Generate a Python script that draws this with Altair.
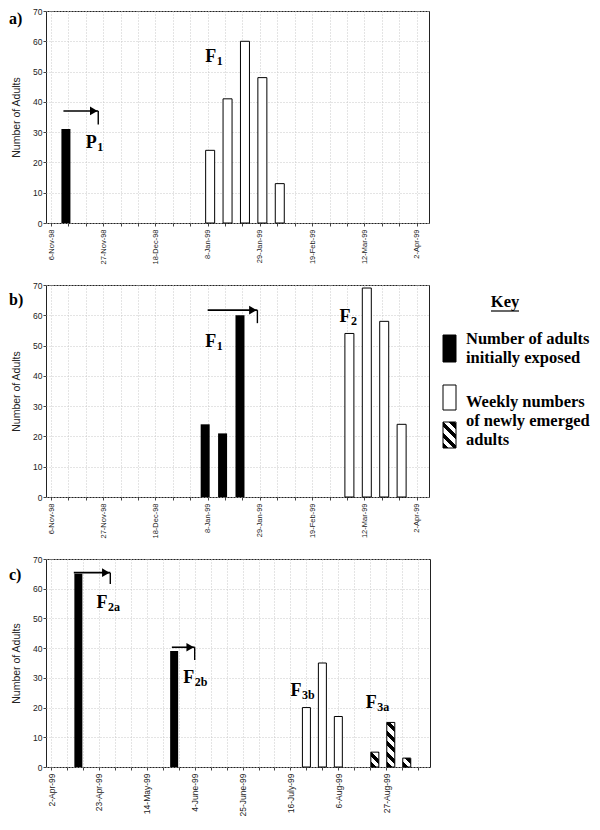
import json
import altair as alt
import numpy as np
import pandas as pd

# ---------------- data ----------------
# panel a
a_black_dates = ["1998-11-12"]
a_black_vals = [31]
a_white_dates = ["1999-01-09", "1999-01-16", "1999-01-23", "1999-01-30", "1999-02-06"]
a_white_vals = [24, 41, 60, 48, 13]
# panel b
b_black_dates = ["1999-01-07", "1999-01-14", "1999-01-21"]
b_black_vals = [24, 21, 60]
b_white_dates = ["1999-03-06", "1999-03-13", "1999-03-20", "1999-03-27"]
b_white_vals = [54, 69, 58, 24]
# panel c
c_black_dates = ["1999-04-14", "1999-05-26"]
c_black_vals = [65, 39]
c_white_dates = ["1999-07-23", "1999-07-30", "1999-08-06"]
c_white_vals = [20, 35, 17]
c_hatch_dates = ["1999-08-22", "1999-08-29", "1999-09-05"]
c_hatch_vals = [5, 15, 3]

# arrows: start, end, level, lower end of the stop tick
a_arrow_start = ["1998-11-11"]
a_arrow_end = ["1998-11-25"]
a_arrow_level = [37.0]
a_arrow_stop = [32.5]
b_arrow_start = ["1999-01-08"]
b_arrow_end = ["1999-01-28"]
b_arrow_level = [61.7]
b_arrow_stop = [57.4]
c_arrow_start = ["1999-04-12", "1999-05-25"]
c_arrow_end = ["1999-04-28", "1999-06-04"]
c_arrow_level = [65.4, 40.3]
c_arrow_stop = [61.6, 36.0]

# generation labels
a_lab_dates = ["1998-11-20", "1999-01-07"]
a_lab_vals = [24.8, 53.1]
a_lab_main = ["P", "F"]
a_lab_sub = ["1", "1"]
b_lab_dates = ["1999-01-07", "1999-03-02"]
b_lab_vals = [49.4, 57.7]
b_lab_main = ["F", "F"]
b_lab_sub = ["1", "2"]
c_lab_dates = ["1999-04-22", "1999-05-30", "1999-07-16", "1999-08-18"]
c_lab_vals = [53.4, 28.2, 24.0, 20.0]
c_lab_main = ["F", "F", "F", "F"]
c_lab_sub = ["2a", "2b", "3b", "3a"]

# axes
ab_domain = ["1998-11-06", "1999-04-05"]
c_domain = ["1999-04-02", "1999-09-13"]
ab_tick_dates = ["1998-11-06", "1998-11-27", "1998-12-18", "1999-01-08",
                 "1999-01-29", "1999-02-19", "1999-03-12", "1999-04-02"]
ab_tick_labels = ["6-Nov-98", "27-Nov-98", "18-Dec-98", "8-Jan-99",
                  "29-Jan-99", "19-Feb-99", "12-Mar-99", "2-Apr-99"]
c_tick_dates = ["1999-04-02", "1999-04-23", "1999-05-14", "1999-06-04",
                "1999-06-25", "1999-07-16", "1999-08-06", "1999-08-27"]
c_tick_labels = ["2-Apr-99", "23-Apr-99", "14-May-99", "4-June-99",
                 "25-June-99", "16-July-99", "6-Aug-99", "27-Aug-99"]
y_ticks = [0, 10, 20, 30, 40, 50, 60, 70]
y_title = "Number of Adults"

key_title = "Key"
key_labels = ["Number of adults\ninitially exposed",
              "Weekly numbers\nof newly emerged\nadults"]

SANS = "Liberation Sans"
SERIF = "Liberation Serif"
YMAX = 70


def ms(d):
    return int(pd.Timestamp(d).value // 1_000_000)


def hatch(w, h, period=7.5, frac=0.5):
    """diagonal black/white stripes as a sharp-stop linear gradient"""
    c = (w + h) / (w * w + h * h)
    n = (w + h) / (np.sqrt(2) * period)
    stops = []
    k = 0
    while k < n:
        t0 = min(k / n, 1.0)
        t1 = min((k + frac) / n, 1.0)
        t2 = min((k + 1) / n, 1.0)
        stops += [(t0, "black"), (t1, "black"), (t1, "white"), (t2, "white")]
        k += 1
    return alt.LinearGradient(
        gradient="linear",
        stops=[alt.GradientStop(offset=float(o), color=col) for o, col in stops],
        x1=0, y1=1, x2=float(c * w), y2=float(1 - c * h),
    )


def key_layers(x0):
    """legend drawn to the right of the plot area (x0 = offset from plot left)"""
    one = pd.DataFrame({"k": [0]})
    key_txt = dict(font=SERIF, fontWeight="bold", fontSize=16.5, color="black",
                   baseline="alphabetic")
    return [
        alt.Chart(pd.DataFrame({"t": [key_title]})).mark_text(align="center", **key_txt)
        .encode(text="t:N", x=alt.value(x0 + 66), y=alt.value(22)),
        alt.Chart(one).mark_rule(color="black", strokeWidth=1.2)
        .encode(x=alt.value(x0 + 52), x2=alt.value(x0 + 80), y=alt.value(26)),
        alt.Chart(one).mark_rect(fill="black", stroke="black")
        .encode(x=alt.value(x0 + 4), x2=alt.value(x0 + 17), y=alt.value(50), y2=alt.value(77)),
        alt.Chart(one).mark_rect(fill="white", stroke="black", strokeWidth=1)
        .encode(x=alt.value(x0 + 4), x2=alt.value(x0 + 17), y=alt.value(100), y2=alt.value(125)),
        alt.Chart(one).mark_rect(fill=hatch(13, 26, period=7.5), stroke="black", strokeWidth=1)
        .encode(x=alt.value(x0 + 4), x2=alt.value(x0 + 17), y=alt.value(137), y2=alt.value(163)),
        alt.Chart(pd.DataFrame({"t": [key_labels[0]]}))
        .mark_text(align="left", lineBreak="\n", lineHeight=19, **key_txt)
        .encode(text="t:N", x=alt.value(x0 + 27), y=alt.value(59.3)),
        alt.Chart(pd.DataFrame({"t": [key_labels[1]]}))
        .mark_text(align="left", lineBreak="\n", lineHeight=19, **key_txt)
        .encode(text="t:N", x=alt.value(x0 + 27), y=alt.value(121.7)),
    ]


def panel(W, H, domain, tick_dates, tick_labels, label_fs, bar_w,
          black, white, hatched, arrows, labels, letter, letter_xy, extra=()):
    weekly = [ms(d) for d in pd.date_range(domain[0], domain[1], freq="7D")]
    lab_ms = [ms(d) for d in tick_dates]
    expr = ("indexof({a}, toNumber(datum.value)) >= 0 ? {b}[indexof({a}, toNumber(datum.value))] : ''"
            .format(a=json.dumps(lab_ms), b=json.dumps(tick_labels)))
    xs = alt.Scale(type="utc", domain=[ms(domain[0]), ms(domain[1])])
    ys = alt.Scale(domain=[0, YMAX], nice=False)
    xaxis = alt.Axis(values=weekly, labelExpr=expr, labelAngle=-90,
                     labelFontSize=label_fs, labelFont=SANS, labelColor="#222",
                     labelPadding=3, labelOverlap=False, labelFlush=False,
                     labelBaseline="middle",
                     tickSize=3, tickColor="#444", grid=True, gridColor="#c8c8c8",
                     gridDash=[1, 2], domain=False)
    yaxis = alt.Axis(values=y_ticks, labelFontSize=8.5, labelFont=SANS, labelColor="#222",
                     labelPadding=1, tickSize=3, tickColor="#444", grid=True,
                     gridColor="#c8c8c8", gridDash=[1, 2], domain=False,
                     titleFont=SANS, titleFontSize=10.5, titleFontWeight="normal",
                     titleColor="#222", titlePadding=11)

    def X(field="date"):
        return alt.X(field + ":T", scale=xs, axis=xaxis, title=None)

    def Y(field="val"):
        return alt.Y(field + ":Q", scale=ys, axis=yaxis, title=y_title)

    layers = []
    bd, bv = black
    layers.append(alt.Chart(pd.DataFrame({"date": [ms(d) for d in bd], "val": bv}))
                  .mark_bar(size=bar_w, color="black").encode(x=X(), y=Y()))
    wd, wv = white
    layers.append(alt.Chart(pd.DataFrame({"date": [ms(d) for d in wd], "val": wv}))
                  .mark_bar(size=bar_w, fill="white", stroke="black", strokeWidth=1)
                  .encode(x=X(), y=Y()))
    if hatched is not None:
        hd, hv = hatched
        for d, v in zip(hd, hv):
            g = hatch(bar_w, v * H / YMAX)
            layers.append(alt.Chart(pd.DataFrame({"date": [ms(d)], "val": [v]}))
                          .mark_bar(size=bar_w, fill=g, stroke="black", strokeWidth=1)
                          .encode(x=X(), y=Y()))
    s, e, lv, st = arrows
    arr_line = pd.DataFrame({"date": [ms(d) for d in s], "date2": [ms(d) for d in e], "val": lv})
    arr_stop = pd.DataFrame({"date": [ms(d) for d in e], "val": lv, "val2": st})
    layers.append(alt.Chart(arr_line).mark_rule(color="black", strokeWidth=1.6)
                  .encode(x=X(), x2=alt.X2("date2"), y=Y()))
    layers.append(alt.Chart(arr_stop).mark_rule(color="black", strokeWidth=1.4)
                  .encode(x=X(), y=Y(), y2=alt.Y2("val2")))
    layers.append(alt.Chart(arr_stop).mark_point(shape="triangle-right", filled=True,
                                                 color="black", opacity=1, size=75, xOffset=-4.5)
                  .encode(x=X(), y=Y()))
    ld, lvv, lm, lsub = labels
    lab = pd.DataFrame({"date": [ms(d) for d in ld], "val": lvv, "main": lm, "sub": lsub})
    layers.append(alt.Chart(lab).mark_text(font=SERIF, fontWeight="bold", fontSize=18,
                                           align="left", baseline="alphabetic", color="black")
                  .encode(x=X(), y=Y(), text="main:N"))
    layers.append(alt.Chart(lab).mark_text(font=SERIF, fontWeight="bold", fontSize=12,
                                           align="left", baseline="alphabetic", color="black",
                                           dx=11.5, dy=3)
                  .encode(x=X(), y=Y(), text="sub:N"))
    layers.append(alt.Chart(pd.DataFrame({"t": [letter]}))
                  .mark_text(font=SERIF, fontWeight="bold", fontSize=16, align="left",
                             baseline="alphabetic", color="black")
                  .encode(text="t:N", x=alt.value(letter_xy[0]), y=alt.value(letter_xy[1])))
    layers.extend(extra)
    return alt.layer(*layers).properties(width=W, height=H)


pa = panel(383, 212, ab_domain, ab_tick_dates, ab_tick_labels, 7.5, 9,
           (a_black_dates, a_black_vals), (a_white_dates, a_white_vals), None,
           (a_arrow_start, a_arrow_end, a_arrow_level, a_arrow_stop),
           (a_lab_dates, a_lab_vals, a_lab_main, a_lab_sub), "a)", (-37, 13))
pb = panel(383, 212, ab_domain, ab_tick_dates, ab_tick_labels, 7.5, 9,
           (b_black_dates, b_black_vals), (b_white_dates, b_white_vals), None,
           (b_arrow_start, b_arrow_end, b_arrow_level, b_arrow_stop),
           (b_lab_dates, b_lab_vals, b_lab_main, b_lab_sub), "b)", (-37, 19.5),
           extra=key_layers(393))
pc = panel(384, 208, c_domain, c_tick_dates, c_tick_labels, 8.5, 8,
           (c_black_dates, c_black_vals), (c_white_dates, c_white_vals),
           (c_hatch_dates, c_hatch_vals),
           (c_arrow_start, c_arrow_end, c_arrow_level, c_arrow_stop),
           (c_lab_dates, c_lab_vals, c_lab_main, c_lab_sub), "c)", (-37, 20.5))

chart = alt.vconcat(
    pa, pb, pc,
    spacing=62, bounds="flush",
).properties(
    padding={"left": 0, "top": -2, "right": 0, "bottom": 0},
    background="white",
).configure_view(stroke="#222", strokeWidth=1)

chart.save("out.html", embed_options={"renderer": "svg", "actions": False})
